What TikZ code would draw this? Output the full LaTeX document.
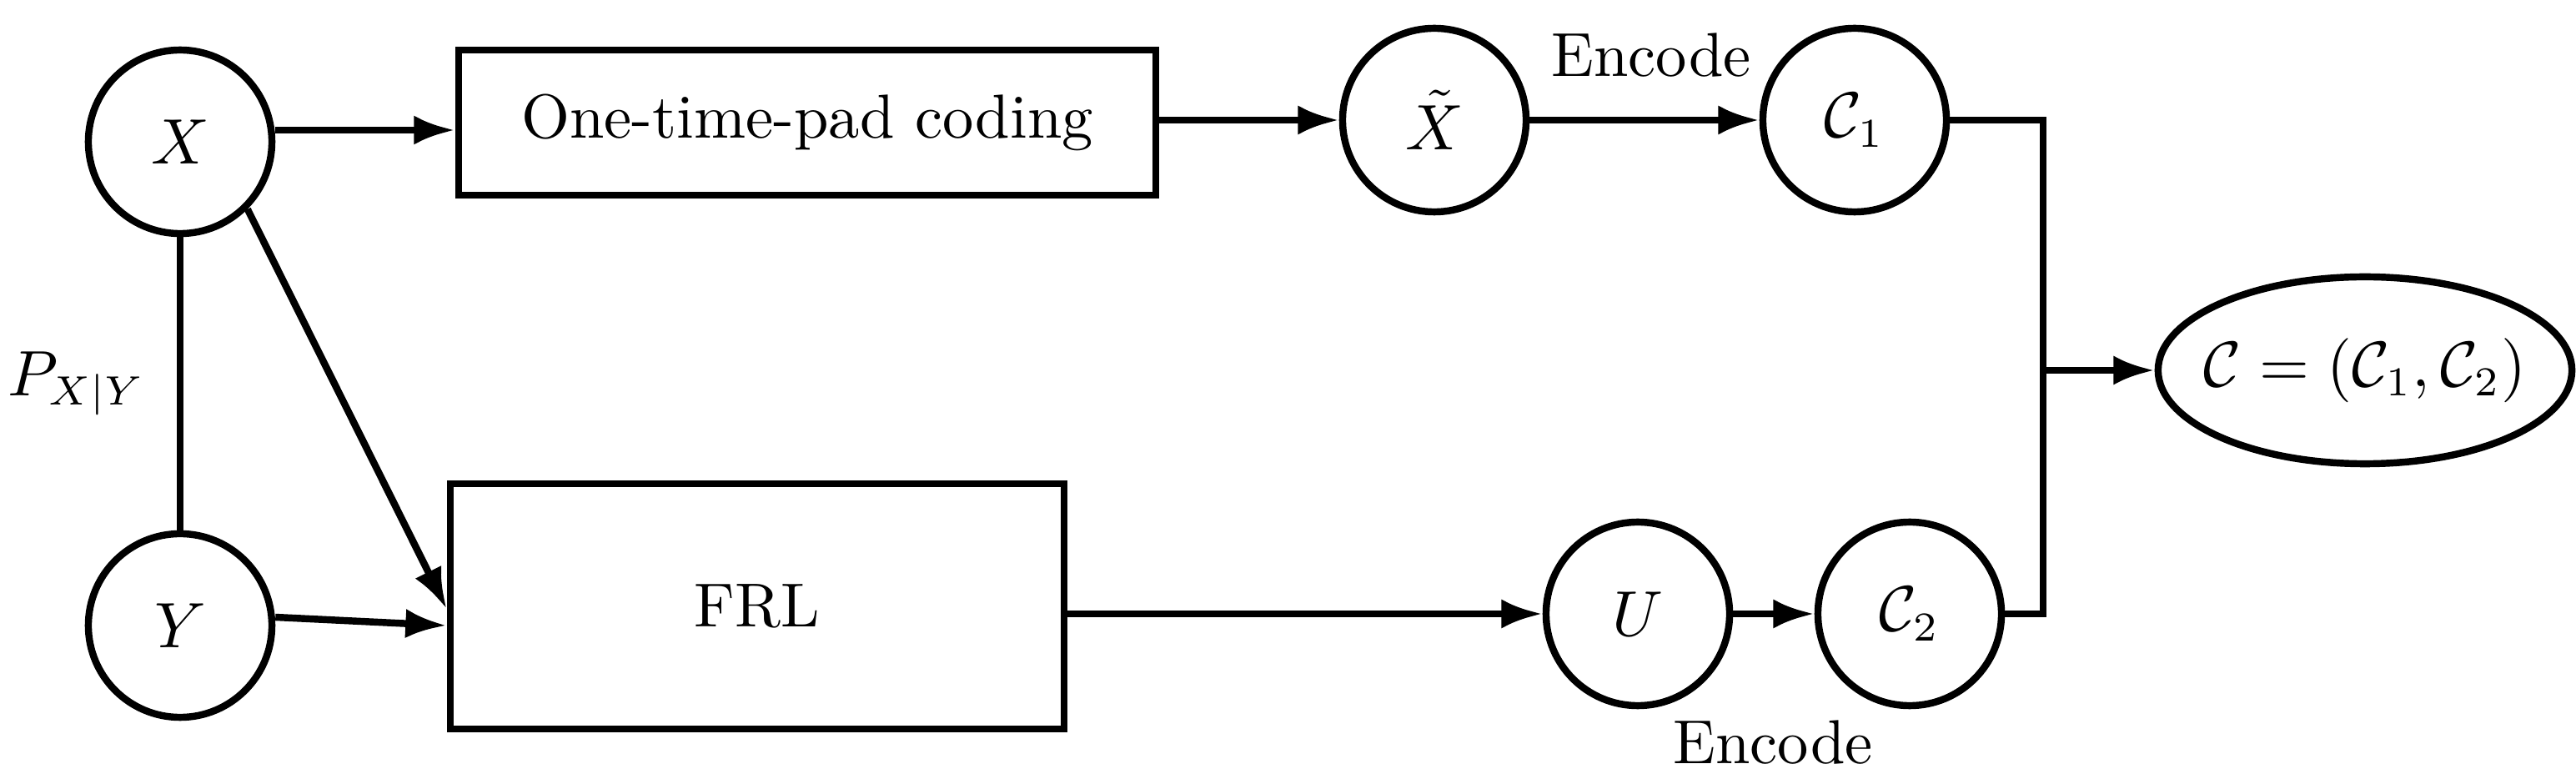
\documentclass[tikz,border=0pt]{standalone}
\usetikzlibrary{arrows.meta,shapes.geometric}
\begin{document}
\begin{tikzpicture}[x=0.01cm,y=-0.01cm,line width=1.2pt,
  every node/.style={font=\fontsize{10.6}{13}\selectfont},
  circ/.style={draw,circle,minimum size=1.1cm,inner sep=0pt},
  box/.style={draw,rectangle,inner sep=0pt},
  arr/.style={-{Latex[length=7pt,width=5pt]}}]
\useasboundingbox (0,0) rectangle (1544.5,464);
\node[circ] (X) at (108,85) {$X$};
\node[circ] (Y) at (108,375) {$Y$};
\node[box,minimum width=4.18cm,minimum height=0.87cm] (O) at (484,73.5) {One-time-pad coding};
\node[circ] (Xt) at (860,72) {$\tilde X$};
\node[circ] (C1) at (1112,72) {$\mathcal{C}_1$};
\node[box,minimum width=3.68cm,minimum height=1.47cm] (F) at (454,363.5) {FRL};
\node[circ] (U) at (982,368) {$U$};
\node[circ] (C2) at (1145,368) {$\mathcal{C}_2$};
\node[draw,ellipse,minimum width=2.48cm,minimum height=1.12cm,inner sep=-8pt] (C) at (1418,222) {$\mathcal{C}=(\mathcal{C}_1,\mathcal{C}_2)$};
\coordinate (J) at (1225,222);
\draw[arr] (X.east |- 0,78) -- (O.west |- 0,78);
\draw[arr] (O.east |- 0,72) -- (Xt.west);
\draw[arr] (Xt.east) -- (C1.west);
\node at (990,33) {Encode};
\draw (C1.east) -- (1225,72) -- (1225,368) -- (C2.east);
\draw[arr] (J) -- (C.west);
\draw (X.south) -- node[left=2pt]{$P_{X|Y}$} (Y.north);
\draw[arr] (X.-45) -- (F.west |- 0,365);
\draw[arr] (Y.east |- 0,370) -- (F.west |- 0,375);
\draw[arr] (F.east |- 0,368) -- (U.west);
\draw[arr] (U.east) -- (C2.west);
\node at (1063,445) {Encode};
\end{tikzpicture}
\end{document}
